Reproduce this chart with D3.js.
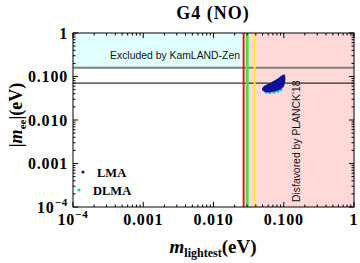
<!DOCTYPE html>
<html><head><meta charset="utf-8">
<script src="https://cdn.jsdelivr.net/npm/d3@7"></script>
<style>body{margin:0;background:#fff}svg{display:block}</style>
</head><body>
<script>
// ---- data ----
const xDomain = [1e-4, 1];
const yDomain = [1e-4, 1];
const xTickValues = [1e-4, 1e-3, 1e-2, 1e-1, 1];
const xTickLabels = ["10^-4", "0.001", "0.010", "0.100", "1"];
const yTickValues = [1e-4, 1e-3, 1e-2, 1e-1, 1];
const yTickLabels = ["10^-4", "0.001", "0.010", "0.100", "1"];
const kamlandLimit = 0.158;     // gray line
const otherLimit = 0.0705;      // black line
const planckBound = 0.0268;     // red line
const greenBound = 0.0303;
const yellowBound = 0.0385;
// LMA region outline (m_lightest, |m_ee|)
const lmaX = [0.0490, 0.0523, 0.0637, 0.0801, 0.0992, 0.104, 0.104, 0.0976, 0.0801, 0.0658, 0.0541];
const lmaY = [0.0502, 0.0605, 0.0709, 0.0876, 0.111, 0.108, 0.0709, 0.0558, 0.0464, 0.0433, 0.0440];
// DLMA points (cyan)
const dlmaX = [0.0559, 0.0637, 0.0727, 0.0828, 0.0914];
const dlmaY = [0.0432, 0.0422, 0.0434, 0.0458, 0.0497];
const legendNames = ["LMA", "DLMA"];
const legendColors = ["#10109a", "#1fc4c4"];

const W = 360, H = 263;
const m = {l: 73, r: 354, t: 33, b: 207};
const svg = d3.select("body").append("svg").attr("width", W).attr("height", H)
  .style("font-family", "'Liberation Serif', 'DejaVu Serif', serif");

const x = d3.scaleLog().domain(xDomain).range([m.l, m.r]);
const y = d3.scaleLog().domain(yDomain).range([m.b, m.t]);

// regions
svg.append("rect").attr("x", x(xDomain[0])).attr("y", y(yDomain[1]))
  .attr("width", x(planckBound) - x(xDomain[0])).attr("height", y(kamlandLimit) - y(yDomain[1]))
  .attr("fill", "#e0ffff");
svg.append("rect").attr("x", x(planckBound)).attr("y", y(yDomain[1]))
  .attr("width", x(xDomain[1]) - x(planckBound)).attr("height", y(yDomain[0]) - y(yDomain[1]))
  .attr("fill", "#ffd8d8");

// horizontal lines
svg.append("line").attr("x1", m.l).attr("x2", m.r).attr("y1", y(kamlandLimit)).attr("y2", y(kamlandLimit))
  .attr("stroke", "#808080").attr("stroke-width", 2);
svg.append("line").attr("x1", m.l).attr("x2", m.r).attr("y1", y(otherLimit)).attr("y2", y(otherLimit))
  .attr("stroke", "#000").attr("stroke-width", 1);

// vertical lines
[[planckBound, "#ff0000", 1.8], [greenBound, "#3ee83e", 2.6], [yellowBound, "#ffee22", 1.8]].forEach(([v, c, w]) => {
  svg.append("line").attr("x1", x(v)).attr("x2", x(v)).attr("y1", m.t).attr("y2", m.b)
    .attr("stroke", c).attr("stroke-width", w);
});

// texts in regions
svg.append("text").attr("x", 110).attr("y", 59).text("Excluded by KamLAND-Zen")
  .style("font-family", "'Liberation Sans', Arial, sans-serif").style("font-size", "10.4px").attr("fill", "#111");
svg.append("text").attr("transform", "translate(300,202) rotate(-90)").text("Disfavored by PLANCK'18")
  .style("font-family", "'Liberation Sans', Arial, sans-serif").style("font-size", "10.4px").attr("fill", "#111");

// DLMA
svg.selectAll("circle.dlma").data(dlmaX).join("circle").attr("class", "dlma")
  .attr("cx", d => x(d)).attr("cy", (d, i) => y(dlmaY[i])).attr("r", 1.5).attr("fill", legendColors[1]);
// LMA region
const pts = lmaX.map((v, i) => [x(v), y(lmaY[i])]);
svg.append("path").attr("d", d3.line().curve(d3.curveCatmullRomClosed.alpha(0.5))(pts))
  .attr("fill", legendColors[0]);

// frame
svg.append("rect").attr("x", m.l).attr("y", m.t).attr("width", m.r - m.l).attr("height", m.b - m.t)
  .attr("fill", "none").attr("stroke", "#000").attr("stroke-width", 1);

// ticks
const minor = [];
for (let e = -4; e < 0; e++) for (let k = 2; k <= 9; k++) minor.push(k * Math.pow(10, e));
const tg = svg.append("g").attr("stroke", "#000").attr("stroke-width", 1);
xTickValues.forEach(v => {
  tg.append("line").attr("x1", x(v)).attr("x2", x(v)).attr("y1", m.b).attr("y2", m.b - 5);
  tg.append("line").attr("x1", x(v)).attr("x2", x(v)).attr("y1", m.t).attr("y2", m.t + 5);
});
minor.forEach(v => {
  tg.append("line").attr("x1", x(v)).attr("x2", x(v)).attr("y1", m.b).attr("y2", m.b - 2.5);
  tg.append("line").attr("x1", x(v)).attr("x2", x(v)).attr("y1", m.t).attr("y2", m.t + 2.5);
  tg.append("line").attr("y1", y(v)).attr("y2", y(v)).attr("x1", m.l).attr("x2", m.l + 2.5);
  tg.append("line").attr("y1", y(v)).attr("y2", y(v)).attr("x1", m.r).attr("x2", m.r - 2.5);
});
yTickValues.forEach(v => {
  tg.append("line").attr("y1", y(v)).attr("y2", y(v)).attr("x1", m.l).attr("x2", m.l + 5);
  tg.append("line").attr("y1", y(v)).attr("y2", y(v)).attr("x1", m.r).attr("x2", m.r - 5);
});

function tickText(sel, label) {
  if (label.includes("^")) {
    const [b, e] = label.split("^");
    sel.append("tspan").text(b);
    sel.append("tspan").attr("dy", -7).style("font-size", "11px").text(e.replace("-", "\u2212"));
  } else sel.text(label);
}
xTickValues.forEach((v, i) => {
  const t = svg.append("text").attr("x", x(v)).attr("y", 225).attr("text-anchor", "middle")
    .style("font-size", "16px").style("font-weight", "bold").style("letter-spacing", "0.8px");
  tickText(t, xTickLabels[i]);
});
yTickValues.forEach((v, i) => {
  const t = svg.append("text").attr("x", 68).attr("y", y(v) + 5.5).attr("text-anchor", "end")
    .style("font-size", "16px").style("font-weight", "bold").style("letter-spacing", "0.8px");
  tickText(t, yTickLabels[i]);
});

// title
svg.append("text").attr("x", 213).attr("y", 19).attr("text-anchor", "middle")
  .style("font-size", "18px").style("font-weight", "bold").style("letter-spacing", "1px").text("G4 (NO)");

// x label
const xl = svg.append("text").attr("x", 213).attr("y", 253).attr("text-anchor", "middle")
  .style("font-weight", "bold");
xl.append("tspan").style("font-size", "19px").style("font-style", "italic").text("m");
xl.append("tspan").attr("dy", 3.5).style("font-size", "12px").text("lightest");
xl.append("tspan").attr("dy", -3.5).style("font-size", "19px").text("(eV)");

// y label
const yl = svg.append("text").attr("transform", "translate(22,115) rotate(-90)").attr("text-anchor", "middle")
  .style("font-weight", "bold");
yl.append("tspan").style("font-size", "18px").text("|");
yl.append("tspan").style("font-size", "18px").style("font-style", "italic").text("m");
yl.append("tspan").attr("dy", 3.5).style("font-size", "11px").text("ee");
yl.append("tspan").attr("dy", -3.5).style("font-size", "18px").text("|(eV)");

// legend
const leg = [[83, 172, 97, 176.5], [79, 190, 93, 195]];
legendNames.forEach((n, i) => {
  svg.append("circle").attr("cx", leg[i][0]).attr("cy", leg[i][1]).attr("r", 1.6).attr("fill", legendColors[i]);
  svg.append("text").attr("x", leg[i][2]).attr("y", leg[i][3]).style("font-size", "12.5px")
    .style("font-weight", "bold").text(n);
});
</script>
</body></html>
